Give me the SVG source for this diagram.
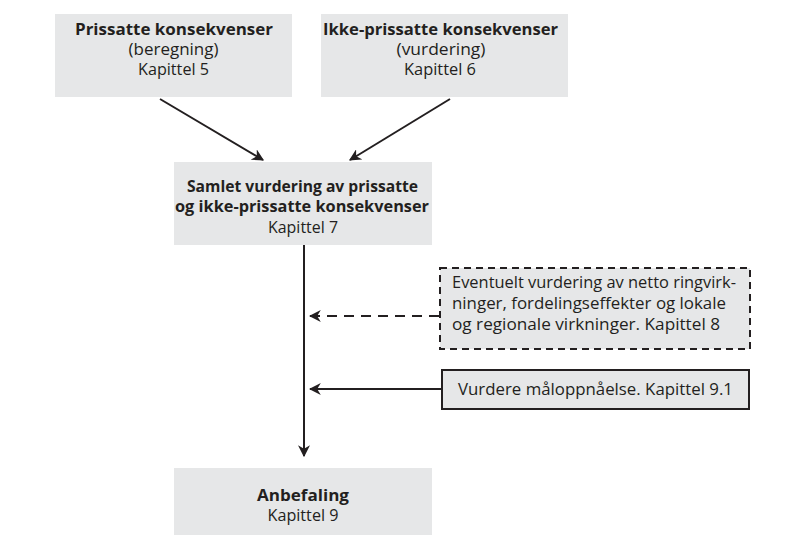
<svg xmlns="http://www.w3.org/2000/svg" width="796" height="556" viewBox="0 0 796 556">
<style>
.box{fill:#e6e7e8}
.t{font-family:"Open Sans","Noto Sans",sans-serif;font-size:15.5px;fill:#231f20;text-anchor:middle}
.b{font-weight:bold;font-size:15.5px}
.l{text-anchor:start}
.c{stroke:#231f20;stroke-width:2;fill:none}
</style>
<defs>
<marker id="ah2" viewBox="0 0 10 10" refX="9" refY="5" markerWidth="12" markerHeight="12" markerUnits="userSpaceOnUse" orient="auto">
<path d="M0,0 L10,5 L0,10 L3,5 z" fill="#231f20"/>
</marker>
</defs>
<g id="connectors">
<line class="c" x1="160" y1="99" x2="263" y2="160" marker-end="url(#ah2)"/>
<line class="c" x1="450" y1="99" x2="350" y2="160" marker-end="url(#ah2)"/>
<line class="c" x1="304" y1="245" x2="304" y2="456" marker-end="url(#ah2)"/>
<line class="c" x1="439" y1="316" x2="310" y2="316" stroke-dasharray="10,7" marker-end="url(#ah2)"/>
<line class="c" x1="441" y1="389" x2="310" y2="389" marker-end="url(#ah2)"/>
</g>
<g id="n1">
<rect class="box" x="55" y="14" width="237" height="83"/>
<text class="t b" x="174" y="35" textLength="198" lengthAdjust="spacingAndGlyphs">Prissatte konsekvenser</text>
<text class="t" x="173.5" y="55" textLength="90" lengthAdjust="spacingAndGlyphs">(beregning)</text>
<text class="t" x="173.5" y="75" textLength="71" lengthAdjust="spacingAndGlyphs">Kapittel 5</text>
</g>
<g id="n2">
<rect class="box" x="321" y="14" width="247" height="83"/>
<text class="t b" x="440.5" y="35" textLength="235" lengthAdjust="spacingAndGlyphs">Ikke-prissatte konsekvenser</text>
<text class="t" x="441" y="55" textLength="89" lengthAdjust="spacingAndGlyphs">(vurdering)</text>
<text class="t" x="440" y="75" textLength="72" lengthAdjust="spacingAndGlyphs">Kapittel 6</text>
</g>
<g id="n3">
<rect class="box" x="174" y="162" width="258" height="83"/>
<text class="t b" x="302.5" y="192" textLength="231" lengthAdjust="spacingAndGlyphs">Samlet vurdering av prissatte</text>
<text class="t b" x="302" y="212" textLength="254" lengthAdjust="spacingAndGlyphs">og ikke-prissatte konsekvenser</text>
<text class="t" x="303" y="233" textLength="70" lengthAdjust="spacingAndGlyphs">Kapittel 7</text>
</g>
<g id="n4">
<rect class="box" x="440" y="268" width="310" height="81" stroke="#231f20" stroke-width="2" stroke-dasharray="7,5"/>
<text class="t l" x="452" y="288" textLength="284" lengthAdjust="spacingAndGlyphs">Eventuelt vurdering av netto ringvirk-</text>
<text class="t l" x="452" y="309" textLength="274" lengthAdjust="spacingAndGlyphs">ninger, fordelingseffekter og lokale</text>
<text class="t l" x="452" y="330" textLength="268" lengthAdjust="spacingAndGlyphs">og regionale virkninger. Kapittel 8</text>
</g>
<g id="n5">
<rect class="box" x="442" y="370" width="307" height="39" stroke="#231f20" stroke-width="2"/>
<text class="t" x="595.5" y="395" textLength="275" lengthAdjust="spacingAndGlyphs">Vurdere måloppnåelse. Kapittel 9.1</text>
</g>
<g id="n6">
<rect class="box" x="174" y="468" width="258" height="67"/>
<text class="t b" x="303" y="501" textLength="92" lengthAdjust="spacingAndGlyphs">Anbefaling</text>
<text class="t" x="303" y="521" textLength="71" lengthAdjust="spacingAndGlyphs">Kapittel 9</text>
</g>
</svg>
